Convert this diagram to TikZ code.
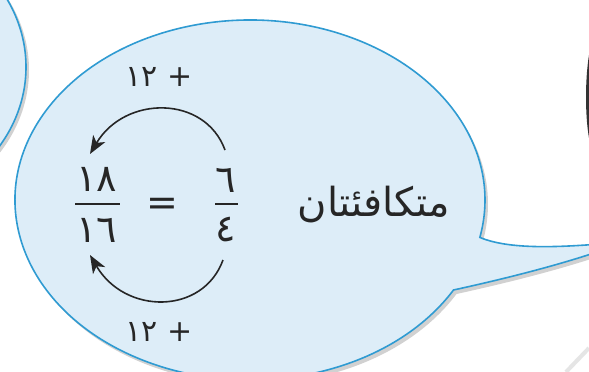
\documentclass[tikz,border=0pt]{standalone}
\usepackage{fontspec}
\newfontfamily\arabicfont[Script=Arabic]{DejaVu Sans}
\TeXXeTstate=1
\usetikzlibrary{arrows.meta}
\definecolor{bubblefill}{HTML}{DDEDF8}
\definecolor{bubbleline}{HTML}{2F9BD2}
\definecolor{ink}{HTML}{262626}
\tikzset{
  bubble/.style={fill=bubblefill, draw=bubbleline, line width=1.6pt},
  shadowpath/.style={fill=black, opacity=0.18},
  digits/.style={font=\arabicfont\fontsize{38}{42}\selectfont, text=ink, inner sep=0pt},
  label/.style={font=\arabicfont\fontsize{30}{34}\selectfont, text=ink, inner sep=0pt},
  word/.style={font=\arabicfont\fontsize{40}{46}\selectfont, text=ink, inner sep=0pt},
  fracbar/.style={draw=ink, line width=2.8pt},
  arr/.style={draw=ink, line width=1.6pt, -{Stealth[length=18pt, width=14pt, inset=5pt]}}
}
\begin{document}
\begin{tikzpicture}[x=1pt, y=-1pt]
\useasboundingbox (0,0) rectangle (589,372);
\fill[white] (0,0) rectangle (589,372);
\begin{scope}
\clip (0,0) rectangle (589,372);
% faint background shapes on the right
\fill[black!80] (589,55) .. controls (585,80) and (585,115) .. (589,138) -- cycle;
\draw[black!10, line width=4pt] (566,372) -- (589,348);
% left bubble
\fill[shadowpath] (-147,70) ellipse [x radius=176, y radius=150];
\path[bubble] (-150,67) ellipse [x radius=176, y radius=150];
% main bubble shadow
\begin{scope}[shift={(3,4)}]
\fill[shadowpath] (453.5,290) arc[start angle=30, end angle=372, x radius=235, y radius=180]
  .. controls (510,250) and (560,247) .. (600,244) -- (600,251)
  .. controls (550,268) and (490,282) .. cycle;
\end{scope}
% main bubble
\path[bubble] (453.5,290) arc[start angle=30, end angle=372, x radius=235, y radius=180]
  .. controls (510,250) and (560,247) .. (600,244) -- (600,251)
  .. controls (550,268) and (490,282) .. cycle;
\end{scope}
% fractions
\node[digits] (n18) at (97,179) {١٨};
\node[digits] (n16) at (97,230) {١٦};
\node[digits] (n6) at (226,180) {٦};
\node[digits] (n4) at (226,230) {٤};
\coordinate (b1l) at (75,204);
\coordinate (b1r) at (120,204);
\coordinate (b2l) at (215,204);
\coordinate (b2r) at (238,204);
\draw[fracbar] (b1l) -- (b1r);
\draw[fracbar] (b2l) -- (b2r);
\node[digits] (eq) at (162,207) {=};
% labels
\node[label] (top) at (159,77) {\beginR + \beginL١٢\endL{}\endR};
\node[label] (bot) at (159,332) {\beginR + \beginL١٢\endL{}\endR};
% word
\node[word] (w) at (374,205) {\beginR متكافئتان\endR};
% arrows
\coordinate (ua) at (225,150);
\coordinate (ub) at (90,154);
\coordinate (la) at (223,260);
\coordinate (lb) at (90,255);
\draw[arr] (ua) .. controls (205,95) and (125,95) .. (ub);
\draw[arr] (la) .. controls (203,315) and (125,315) .. (lb);
\end{tikzpicture}
\end{document}
